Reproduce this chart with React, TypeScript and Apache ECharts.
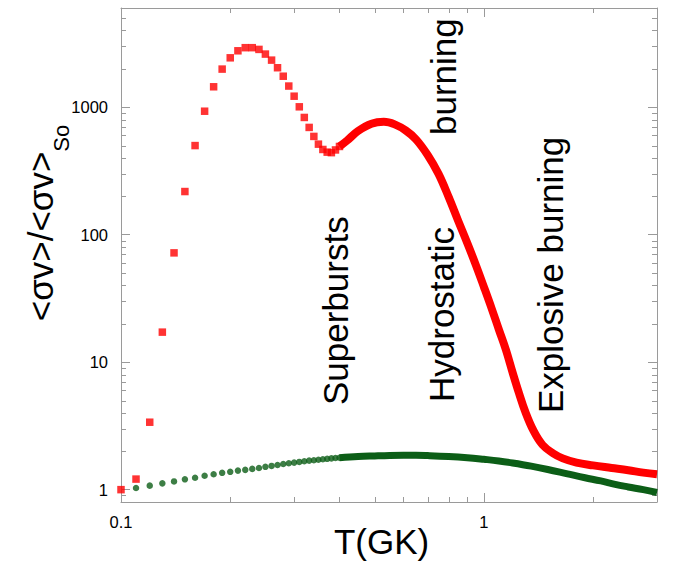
import React, { useEffect, useRef } from 'react';
import * as echarts from 'echarts';

// ---- data ----
const redSparseT = [0.10, 0.11, 0.12, 0.13, 0.14, 0.15, 0.16, 0.17, 0.18, 0.19, 0.20, 0.21, 0.22, 0.23, 0.24, 0.25, 0.26, 0.27, 0.28, 0.29, 0.30, 0.31, 0.32, 0.33, 0.34, 0.35, 0.36, 0.37, 0.38, 0.39, 0.40];
const redSparseV = [1.0, 1.21, 3.38, 17.2, 72, 218, 500, 930, 1446, 1990, 2440, 2770, 2930, 2930, 2840, 2610, 2340, 2040, 1750, 1465, 1220, 1007, 831, 694, 590, 513, 466, 444, 440, 462, 492];

const redCurveT = [0.40, 0.42, 0.45, 0.49, 0.53, 0.57, 0.61, 0.65, 0.70, 0.75, 0.80, 0.85, 0.90, 0.95, 1.00, 1.05, 1.10, 1.15, 1.20, 1.25, 1.30, 1.37, 1.45, 1.55, 1.65, 1.80, 2.00, 2.25, 2.50, 2.75, 3.00];
const redCurveV = [492, 548, 650, 742, 768, 730, 655, 560, 422, 300, 197, 128, 86, 58, 39, 26.5, 18, 12.5, 8.3, 5.7, 4.1, 2.9, 2.25, 1.93, 1.76, 1.63, 1.55, 1.48, 1.42, 1.36, 1.32];

const greenSparseT = [0.11, 0.12, 0.13, 0.14, 0.15, 0.16, 0.17, 0.18, 0.19, 0.20, 0.21, 0.22, 0.23, 0.24, 0.25, 0.26, 0.27, 0.28, 0.29, 0.30, 0.31, 0.32, 0.33, 0.34, 0.35, 0.36, 0.37, 0.38, 0.39, 0.40];
const greenSparseV = [1.03, 1.075, 1.12, 1.16, 1.205, 1.24, 1.285, 1.32, 1.355, 1.38, 1.41, 1.43, 1.455, 1.48, 1.51, 1.535, 1.56, 1.59, 1.61, 1.63, 1.65, 1.67, 1.69, 1.70, 1.715, 1.73, 1.745, 1.76, 1.77, 1.78];

const greenCurveT = [0.40, 0.45, 0.50, 0.55, 0.60, 0.65, 0.70, 0.80, 0.90, 1.00, 1.10, 1.20, 1.35, 1.50, 1.70, 1.90, 2.10, 2.30, 2.50, 2.75, 3.00];
const greenCurveV = [1.78, 1.82, 1.84, 1.855, 1.86, 1.86, 1.85, 1.82, 1.78, 1.73, 1.68, 1.62, 1.53, 1.44, 1.33, 1.24, 1.17, 1.10, 1.05, 1.00, 0.95];

const xMinorTicks = [0.2, 0.3, 0.4, 0.5, 0.6, 0.7, 0.8, 0.9, 2];
const yMinorTicks = [0.9, 2, 3, 4, 5, 6, 7, 8, 9, 20, 30, 40, 50, 60, 70, 80, 90, 200, 300, 400, 500, 600, 700, 800, 900, 2000, 3000, 4000, 5000];

const annotations = [
  { text: 'Superbursts', x: 318, y: 405 },
  { text: 'Hydrostatic', x: 424, y: 402 },
  { text: 'burning', x: 426, y: 135 },
  { text: 'Explosive burning', x: 533, y: 413 },
];

const FONT = "'Liberation Sans', Arial, Helvetica, sans-serif";
const GRAY = '#9a9a9a';
const RED = '#ff0000';
const GREEN = '#0c5e17';

const zip = (a: number[], b: number[]) => a.map((v, i) => [v, b[i]]);

const pow10Label = (v: number) => {
  const l = Math.log10(v);
  if (Math.abs(l - Math.round(l)) < 1e-6) return String(Number(v.toPrecision(6)));
  return '';
};

const baseAxisLine = { show: true, lineStyle: { color: GRAY, width: 1 } };
const baseTick = { show: true, inside: true, length: 9, lineStyle: { color: GRAY, width: 1 } };

export default function App() {
  const ref = useRef<HTMLDivElement>(null);
  useEffect(() => {
    document.body.style.margin = '0';
    const chart = echarts.init(ref.current!, null, { renderer: 'svg' });
    const option: any = {
      animation: false,
      backgroundColor: '#ffffff',
      grid: { left: 121, right: 23, top: 8, bottom: 61, containLabel: false, outerBoundsMode: 'none' },
      xAxis: [
        {
          type: 'log', min: 0.1, max: 3, position: 'bottom',
          axisLine: baseAxisLine, axisTick: baseTick, splitLine: { show: false },
          axisLabel: { formatter: pow10Label, fontSize: 16.5, color: '#000', fontFamily: FONT, margin: 11 },
          name: 'T(GK)', nameLocation: 'middle', nameGap: 22, nameMoveOverlap: false,
          nameTextStyle: { fontSize: 35, color: '#000', fontFamily: FONT, lineHeight: 35, padding: [0, 15, 0, 0] },
        },
        {
          type: 'log', min: 0.1, max: 3, position: 'top',
          axisLine: baseAxisLine, axisTick: baseTick, splitLine: { show: false },
          axisLabel: { show: false },
        },
      ],
      yAxis: [
        {
          type: 'log', min: 0.8, max: 6000, position: 'left',
          axisLine: baseAxisLine, axisTick: baseTick, splitLine: { show: false },
          axisLabel: { formatter: pow10Label, fontSize: 16.5, color: '#000', fontFamily: FONT, margin: 13 },
          name: '{m|<σv>/<σv>}{s|So}', nameLocation: 'middle', nameRotate: 90, nameGap: 58, nameMoveOverlap: false,
          nameTextStyle: {
            padding: [0, 0, 0, 64],
            rich: {
              m: { fontSize: 35, fontFamily: FONT, color: '#000', verticalAlign: 'top', lineHeight: 40 },
              s: { fontSize: 22, fontFamily: FONT, color: '#000', verticalAlign: 'top', lineHeight: 22, padding: [27, 0, 0, 0] },
            },
          },
        },
        {
          type: 'log', min: 0.8, max: 6000, position: 'right',
          axisLine: baseAxisLine, axisTick: baseTick, splitLine: { show: false },
          axisLabel: { show: false },
        },
      ],
      series: [
        {
          type: 'custom', coordinateSystem: 'cartesian2d', silent: true, z: 1,
          data: xMinorTicks.map((v) => [v, 1]),
          renderItem: (params: any, api: any) => {
            const cs = params.coordSys;
            const px = Math.round(api.coord([api.value(0), 1])[0]) + 0.5;
            const bottom = cs.y + cs.height;
            return {
              type: 'group',
              children: [
                { type: 'line', shape: { x1: px, y1: bottom, x2: px, y2: bottom - 5 }, style: { stroke: GRAY, lineWidth: 1 } },
                { type: 'line', shape: { x1: px, y1: cs.y, x2: px, y2: cs.y + 5 }, style: { stroke: GRAY, lineWidth: 1 } },
              ],
            };
          },
        },
        {
          type: 'custom', coordinateSystem: 'cartesian2d', silent: true, z: 1,
          data: yMinorTicks.map((v) => [1, v]),
          renderItem: (params: any, api: any) => {
            const cs = params.coordSys;
            const py = Math.round(api.coord([1, api.value(1)])[1]) + 0.5;
            const right = cs.x + cs.width;
            return {
              type: 'group',
              children: [
                { type: 'line', shape: { x1: cs.x, y1: py, x2: cs.x + 5, y2: py }, style: { stroke: GRAY, lineWidth: 1 } },
                { type: 'line', shape: { x1: right - 5, y1: py, x2: right, y2: py }, style: { stroke: GRAY, lineWidth: 1 } },
              ],
            };
          },
        },
        {
          name: 'green line', type: 'line', data: zip(greenCurveT, greenCurveV),
          showSymbol: false, smooth: 0.4, lineStyle: { color: GREEN, width: 7 }, z: 2, clip: false,
        },
        {
          name: 'green', type: 'scatter', data: zip(greenSparseT, greenSparseV),
          symbol: 'circle', symbolSize: 6.5, itemStyle: { color: GREEN }, z: 2,
        },
        {
          name: 'red line', type: 'line', data: zip(redCurveT, redCurveV),
          showSymbol: false, smooth: 0.4, lineStyle: { color: RED, width: 8 }, z: 3, clip: false,
        },
        {
          name: 'red', type: 'scatter', data: zip(redSparseT, redSparseV),
          symbol: 'rect', symbolSize: 7.5, itemStyle: { color: RED }, z: 3, clip: false,
        },
      ],
      graphic: annotations.map((a) => ({
        type: 'text', x: a.x, y: a.y, rotation: Math.PI / 2, z: 10,
        style: { text: a.text, fontSize: 35, fontFamily: FONT, fill: '#000', align: 'left', verticalAlign: 'top' },
      })),
    };
    chart.setOption(option);
    return () => chart.dispose();
  }, []);
  return <div ref={ref} style={{ width: 680, height: 563 }} />;
}
